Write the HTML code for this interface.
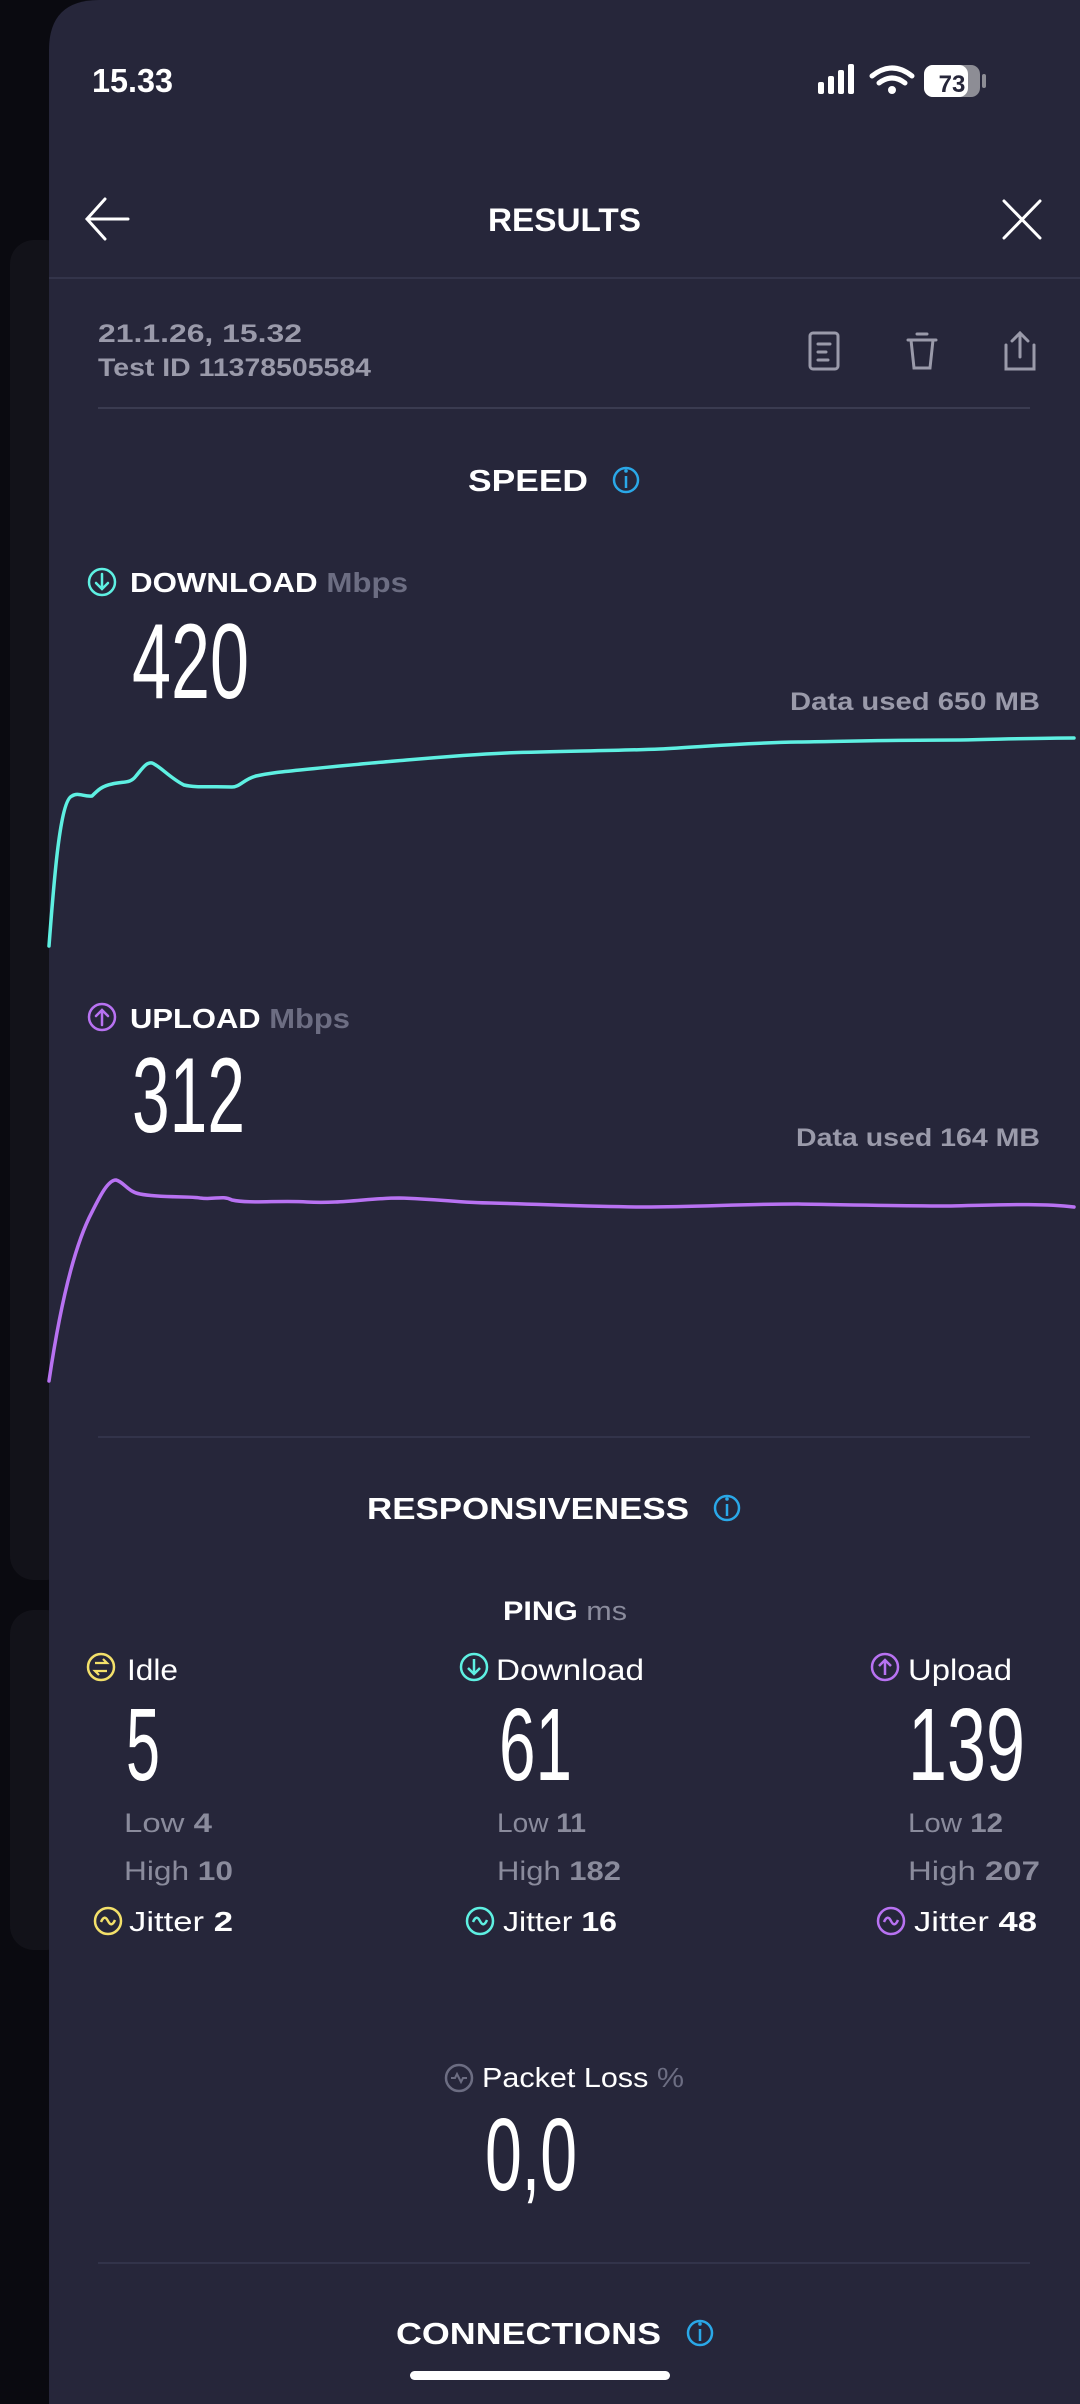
<!DOCTYPE html>
<html><head><meta charset="utf-8"><style>
html,body{margin:0;padding:0;background:#0a0a10;width:1080px;height:2404px;overflow:hidden}
svg{display:block}
text{font-family:"Liberation Sans",sans-serif}
</style></head><body>
<svg width="1080" height="2404" viewBox="0 0 1080 2404" xmlns="http://www.w3.org/2000/svg">
<rect x="0" y="0" width="1080" height="2404" fill="#0a0a10"/>
<rect x="10" y="240" width="60" height="1340" rx="24" fill="#121219"/>
<rect x="10" y="1610" width="60" height="340" rx="24" fill="#121219"/>
<path d="M49 2404 V50 Q49 0 99 0 H1080 V2404 Z" fill="#26263a"/>

<!-- status bar -->
<text x="92" y="92" font-size="33" font-weight="bold" fill="#fff" textLength="81" lengthAdjust="spacingAndGlyphs">15.33</text>
<g fill="#fff">
<rect x="818" y="82" width="6" height="12" rx="2"/><rect x="828" y="76" width="6" height="18" rx="2"/><rect x="838" y="70" width="6" height="24" rx="2"/><rect x="848" y="64" width="6" height="30" rx="2"/>
</g>
<g fill="none" stroke="#fff" stroke-width="5" stroke-linecap="round">
<path d="M872 76 Q892 60 912 76"/><path d="M879 83 Q892 73 905 83"/>
</g>
<circle cx="892" cy="90" r="4" fill="#fff"/>
<rect x="924" y="65" width="56" height="32" rx="9" fill="#8d8d95"/>
<rect x="924" y="65" width="44" height="32" rx="9" fill="#fff"/>
<rect x="982" y="74" width="4" height="14" rx="2" fill="#8d8d95"/>
<text x="952" y="92" font-size="24" font-weight="bold" fill="#26263a" text-anchor="middle">73</text>

<!-- header -->
<g fill="none" stroke="#fff" stroke-width="3" stroke-linecap="round">
<path d="M128 219 H87 M105 199 L87 219 L105 239"/>
<path d="M1004 201 L1040 238 M1040 201 L1004 238"/>
</g>
<text x="488" y="231" font-size="32" font-weight="bold" fill="#fff" textLength="153" lengthAdjust="spacingAndGlyphs">RESULTS</text>
<rect x="49" y="277" width="1031" height="2" fill="#33344a"/>

<text x="98" y="342" font-size="25" font-weight="bold" fill="#9a9aaa" textLength="204" lengthAdjust="spacingAndGlyphs">21.1.26, 15.32</text>
<text x="98" y="376" font-size="25" font-weight="bold" fill="#9a9aaa" textLength="273" lengthAdjust="spacingAndGlyphs">Test ID 11378505584</text>
<g fill="none" stroke="#9a9aaa" stroke-width="3" stroke-linecap="round">
<rect x="810" y="333" width="28" height="36" rx="3"/>
<path d="M818 344 H830 M818 352 H826 M818 360 H828"/>
<path d="M908 340 H936 M917 334 H927 M911 340 L914 368 H930 L933 340"/>
<path d="M1006 345 V369 H1034 V345 M1020 357 V333 M1012 341 L1020 333 L1028 341"/>
</g>
<rect x="98" y="407" width="932" height="2" fill="#3a3b50"/>

<text x="468" y="491" font-size="31" font-weight="bold" fill="#fff" textLength="120" lengthAdjust="spacingAndGlyphs">SPEED</text>
<circle cx="626" cy="480" r="12" fill="none" stroke="#2aa8e8" stroke-width="2.5"/>
<path d="M626 476 V488" stroke="#2aa8e8" stroke-width="2.5"/><circle cx="626" cy="471" r="1.8" fill="#2aa8e8"/>

<!-- download -->
<circle cx="102" cy="582" r="13" fill="none" stroke="#5ef0e2" stroke-width="2.5"/>
<path d="M102 574 V589 M96 583 L102 589 L108 583" fill="none" stroke="#5ef0e2" stroke-width="2.5" stroke-linecap="round"/>
<text x="130" y="592" font-size="28" font-weight="bold" fill="#fff" textLength="278" lengthAdjust="spacingAndGlyphs">DOWNLOAD <tspan fill="#6c6d82">Mbps</tspan></text>
<text x="132" y="698" font-size="107" fill="#fff" textLength="117" lengthAdjust="spacingAndGlyphs">420</text>
<text x="790" y="710" font-size="25" font-weight="bold" fill="#9a9aaa" textLength="250" lengthAdjust="spacingAndGlyphs">Data used 650 MB</text>
<path fill="none" stroke="#5ef0e2" stroke-width="3.5" stroke-linejoin="round" stroke-linecap="round"
d="M49 946 C54 880 60 800 72 796 C78 792 84 797 92 796 C98 790 102 786 112 784 C124 781 130 784 136 776 C142 769 146 762 152 763 C160 766 170 778 184 785 C196 788 212 786 232 787 C240 787 244 779 256 776 C270 773 280 772 300 770 C340 766 360 764 384 762 C420 759 460 755 506 753 C560 751 610 751 660 749 C700 747 740 743 798 742 C860 741 900 740 960 740 C1010 739 1040 738 1074 738"/>

<!-- upload -->
<circle cx="102" cy="1017" r="13" fill="none" stroke="#b872f2" stroke-width="2.5"/>
<path d="M102 1025 V1010 M96 1016 L102 1010 L108 1016" fill="none" stroke="#b872f2" stroke-width="2.5" stroke-linecap="round"/>
<text x="130" y="1028" font-size="28" font-weight="bold" fill="#fff" textLength="220" lengthAdjust="spacingAndGlyphs">UPLOAD <tspan fill="#6c6d82">Mbps</tspan></text>
<text x="132" y="1132" font-size="107" fill="#fff" textLength="113" lengthAdjust="spacingAndGlyphs">312</text>
<text x="796" y="1146" font-size="25" font-weight="bold" fill="#9a9aaa" textLength="244" lengthAdjust="spacingAndGlyphs">Data used 164 MB</text>
<path fill="none" stroke="#b872f2" stroke-width="3.5" stroke-linejoin="round" stroke-linecap="round"
d="M49 1381 C58 1320 72 1250 92 1212 C100 1196 108 1180 116 1180 C124 1182 128 1192 140 1194 C160 1198 190 1196 200 1198 C215 1200 222 1195 232 1200 C250 1204 280 1200 307 1202 C340 1204 370 1198 399 1198 C440 1199 460 1203 491 1203 C560 1205 600 1207 644 1207 C700 1207 740 1204 798 1204 C860 1205 900 1206 951 1206 C1000 1205 1040 1203 1074 1207"/>

<rect x="98" y="1436" width="932" height="2" fill="#32334a"/>

<text x="528" y="1519" font-size="31" font-weight="bold" fill="#fff" text-anchor="middle" textLength="322" lengthAdjust="spacingAndGlyphs">RESPONSIVENESS</text>
<circle cx="727" cy="1508" r="12" fill="none" stroke="#2aa8e8" stroke-width="2.5"/>
<path d="M727 1504 V1516" stroke="#2aa8e8" stroke-width="2.5"/><circle cx="727" cy="1499" r="1.8" fill="#2aa8e8"/>

<text x="503" y="1620" font-size="27" font-weight="bold" fill="#fff" textLength="124" lengthAdjust="spacingAndGlyphs">PING <tspan fill="#8a8b9c" font-weight="normal">ms</tspan></text>

<!-- ping columns -->
<circle cx="101" cy="1667" r="13" fill="none" stroke="#f3e06a" stroke-width="2.5"/>
<path d="M95 1663 H107 L103 1659 M107 1671 H95 L99 1675" fill="none" stroke="#f3e06a" stroke-width="2.2"/>
<text x="127" y="1680" font-size="30" fill="#fff" textLength="51" lengthAdjust="spacingAndGlyphs">Idle</text>
<circle cx="474" cy="1667" r="13" fill="none" stroke="#5ef0e2" stroke-width="2.5"/>
<path d="M474 1659 V1674 M468 1668 L474 1674 L480 1668" fill="none" stroke="#5ef0e2" stroke-width="2.5"/>
<text x="496" y="1680" font-size="30" fill="#fff" textLength="148" lengthAdjust="spacingAndGlyphs">Download</text>
<circle cx="885" cy="1667" r="13" fill="none" stroke="#b872f2" stroke-width="2.5"/>
<path d="M885 1675 V1660 M879 1666 L885 1660 L891 1666" fill="none" stroke="#b872f2" stroke-width="2.5"/>
<text x="908" y="1680" font-size="30" fill="#fff" textLength="104" lengthAdjust="spacingAndGlyphs">Upload</text>

<text x="126" y="1780" font-size="103" fill="#fff" textLength="34" lengthAdjust="spacingAndGlyphs">5</text>
<text x="499" y="1780" font-size="103" fill="#fff" textLength="73" lengthAdjust="spacingAndGlyphs">61</text>
<text x="908" y="1780" font-size="103" fill="#fff" textLength="117" lengthAdjust="spacingAndGlyphs">139</text>

<g font-size="27" fill="#8a8b9c">
<text x="124" y="1832" textLength="88" lengthAdjust="spacingAndGlyphs">Low <tspan font-weight="bold">4</tspan></text>
<text x="124" y="1880" textLength="109" lengthAdjust="spacingAndGlyphs">High <tspan font-weight="bold">10</tspan></text>
<text x="497" y="1832" textLength="89" lengthAdjust="spacingAndGlyphs">Low <tspan font-weight="bold">11</tspan></text>
<text x="497" y="1880" textLength="124" lengthAdjust="spacingAndGlyphs">High <tspan font-weight="bold">182</tspan></text>
<text x="908" y="1832" textLength="95" lengthAdjust="spacingAndGlyphs">Low <tspan font-weight="bold">12</tspan></text>
<text x="908" y="1880" textLength="132" lengthAdjust="spacingAndGlyphs">High <tspan font-weight="bold">207</tspan></text>
</g>

<g fill="none" stroke-width="2.5">
<circle cx="108" cy="1921" r="13" stroke="#f3e06a"/><path d="M101 1922 Q104.5 1914 108 1921 T115 1920" stroke="#f3e06a"/>
<circle cx="480" cy="1921" r="13" stroke="#5ef0e2"/><path d="M473 1922 Q476.5 1914 480 1921 T487 1920" stroke="#5ef0e2"/>
<circle cx="891" cy="1921" r="13" stroke="#b872f2"/><path d="M884 1922 Q887.5 1914 891 1921 T898 1920" stroke="#b872f2"/>
</g>
<g font-size="28" fill="#fff">
<text x="129" y="1931" textLength="104" lengthAdjust="spacingAndGlyphs">Jitter <tspan font-weight="bold">2</tspan></text>
<text x="503" y="1931" textLength="114" lengthAdjust="spacingAndGlyphs">Jitter <tspan font-weight="bold">16</tspan></text>
<text x="914" y="1931" textLength="123" lengthAdjust="spacingAndGlyphs">Jitter <tspan font-weight="bold">48</tspan></text>
</g>

<!-- packet loss -->
<circle cx="459" cy="2078" r="13" fill="none" stroke="#6c6d82" stroke-width="2.5"/>
<path d="M451 2078 H455 L457 2074 L461 2082 L463 2078 H467" fill="none" stroke="#6c6d82" stroke-width="2"/>
<text x="482" y="2087" font-size="28" fill="#fff" textLength="202" lengthAdjust="spacingAndGlyphs">Packet Loss <tspan fill="#6c6d82">%</tspan></text>
<text x="485" y="2190" font-size="103" fill="#fff" textLength="92" lengthAdjust="spacingAndGlyphs">0,0</text>

<rect x="98" y="2262" width="932" height="2" fill="#32334a"/>
<text x="396" y="2344" font-size="31" font-weight="bold" fill="#fff" textLength="265" lengthAdjust="spacingAndGlyphs">CONNECTIONS</text>
<circle cx="700" cy="2333" r="12" fill="none" stroke="#2aa8e8" stroke-width="2.5"/>
<path d="M700 2329 V2341" stroke="#2aa8e8" stroke-width="2.5"/><circle cx="700" cy="2324" r="1.8" fill="#2aa8e8"/>

<rect x="410" y="2371" width="260" height="9" rx="4.5" fill="#fff"/>
</svg>
</body></html>
